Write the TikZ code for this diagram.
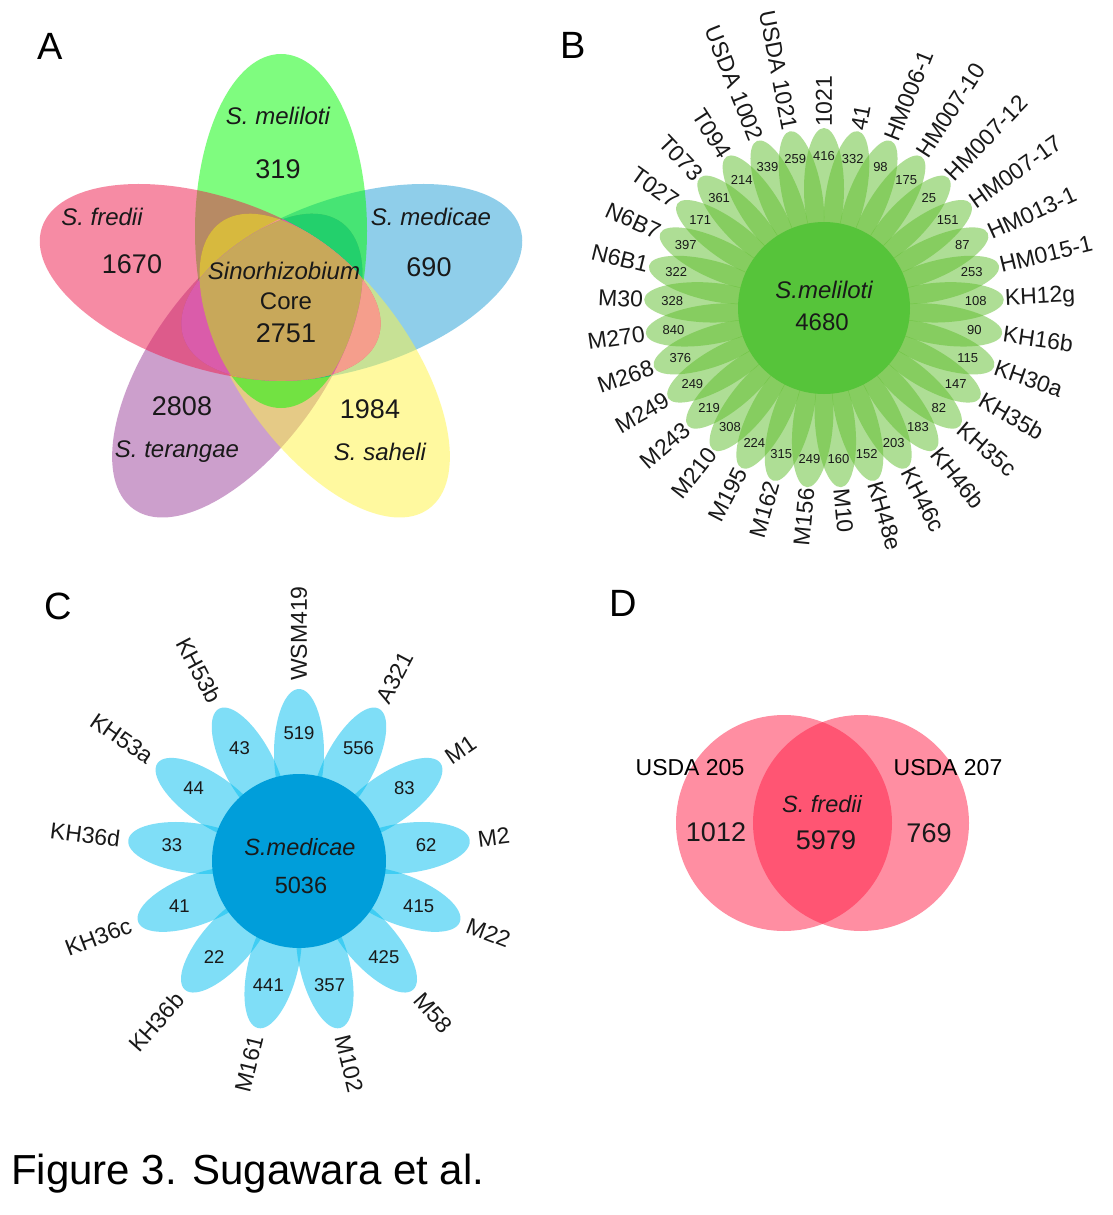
\documentclass[tikz,border=0pt]{standalone}
\usepackage{fontspec}
\setmainfont{Liberation Sans}
\newcommand\myfs[1]{\fontsize{#1}{#1}\selectfont}
\definecolor{tcol}{RGB}{25,25,25}
\definecolor{vgreen}{RGB}{0,250,0}
\definecolor{vpink}{RGB}{239,25,75}
\definecolor{vblue}{RGB}{33,159,215}
\definecolor{vpurple}{RGB}{155,65,155}
\definecolor{vyellow}{RGB}{255,245,65}
\definecolor{rcore}{RGB}{200,168,90}
\definecolor{rtipY}{RGB}{215,185,62}
\definecolor{rtipPu}{RGB}{35,208,108}
\definecolor{rtipPk}{RGB}{245,158,140}
\definecolor{rtipB}{RGB}{218,92,170}
\definecolor{bpetal}{RGB}{95,190,45}
\definecolor{bcore}{RGB}{86,196,58}
\definecolor{cpetal}{RGB}{0,190,240}
\definecolor{ccore}{RGB}{0,158,218}
\definecolor{dred}{RGB}{255,30,70}
\def\Blist{1021/416, 41/332, HM006-1/98, HM007-10/175, HM007-12/25, HM007-17/151, HM013-1/87, HM015-1/253, KH12g/108, KH16b/90, KH30a/115, KH35b/147, KH35c/82, KH46b/183, KH46c/203, KH48e/152, M10/160, M156/249, M162/315, M195/224, M210/308, M243/219, M249/249, M268/376, M270/840, M30/328, N6B1/322, N6B7/397, T027/171, T073/361, T094/214, USDA 1002/339, USDA 1021/259}
\def\Clist{WSM419/519, A321/556, M1/83, M2/62, M22/415, M58/425, M102/357, M161/441, KH36b/22, KH36c/41, KH36d/33, KH53a/44, KH53b/43}
\begin{document}
\begin{tikzpicture}[x=1pt,y=-1pt,
  txt/.style={text=tcol, inner sep=0pt},
  vname/.style={txt, font=\myfs{24}\itshape},
  vnum/.style={txt, font=\myfs{27}},
  plabel/.style={text=black, inner sep=0pt, font=\myfs{38}},
  blab/.style={txt, font=\myfs{23}},
  bnum/.style={txt, font=\myfs{13}},
  bcname/.style={txt, font=\myfs{24}\itshape},
  bcnum/.style={txt, font=\myfs{24}},
  clab/.style={txt, font=\myfs{23}},
  cnum/.style={txt, font=\myfs{18.5}},
  ccname/.style={txt, font=\myfs{23.5}\itshape},
  ccnum/.style={txt, font=\myfs{23.5}},
  dlab/.style={text=black, inner sep=0pt, font=\myfs{23}},
  dname/.style={txt, font=\myfs{23.5}\itshape},
  dnum/.style={txt, font=\myfs{27}},
  venn/.style={fill=#1, fill opacity=0.5},
  bpet/.style={fill=bpetal, fill opacity=0.5},
  cpet/.style={fill=cpetal, fill opacity=0.5},
  Tpink/.style={rotate around={72:(210.2,282.4)}},
  Tblue/.style={rotate around={-72:(351.8,282.4)}},
  Tpurple/.style={rotate around={144:(237.3,365.6)}},
  Tyellow/.style={rotate around={-144:(324.7,365.6)}},
  vell/.style={x radius=86, y radius=177},
]
\fill[white] (0,0) rectangle (1112,1215);
\useasboundingbox (0,0) rectangle (1112,1215);

% ---------------- Panel A ----------------
\fill[venn=vblue, Tblue] (351.8,282.4) ellipse [vell];
\fill[venn=vpurple, Tpurple] (237.3,365.6) ellipse [vell];
\fill[venn=vyellow, Tyellow] (324.7,365.6) ellipse [vell];
\fill[venn=vgreen] (281,231) ellipse [vell];
\fill[venn=vpink, Tpink] (210.2,282.4) ellipse [vell];
% tip regions
\begin{scope}
  \clip[Tpink] (210.2,282.4) ellipse [vell];
  \clip (281,231) ellipse [vell];
  \clip[Tyellow] (324.7,365.6) ellipse [vell];
  \fill[rtipY] (0,0) rectangle (540,540);
\end{scope}
\begin{scope}
  \clip[Tblue] (351.8,282.4) ellipse [vell];
  \clip (281,231) ellipse [vell];
  \clip[Tpurple] (237.3,365.6) ellipse [vell];
  \fill[rtipPu] (0,0) rectangle (540,540);
\end{scope}
\begin{scope}
  \clip[Tblue] (351.8,282.4) ellipse [vell];
  \clip[Tyellow] (324.7,365.6) ellipse [vell];
  \clip[Tpink] (210.2,282.4) ellipse [vell];
  \fill[rtipPk] (0,0) rectangle (540,540);
\end{scope}
\begin{scope}
  \clip[Tpink] (210.2,282.4) ellipse [vell];
  \clip[Tpurple] (237.3,365.6) ellipse [vell];
  \clip[Tblue] (351.8,282.4) ellipse [vell];
  \fill[rtipB] (0,0) rectangle (540,540);
\end{scope}
\begin{scope}
  \clip[Tpink] (210.2,282.4) ellipse [vell];
  \clip[Tblue] (351.8,282.4) ellipse [vell];
  \clip (281,231) ellipse [vell];
  \clip[Tpurple] (237.3,365.6) ellipse [vell];
  \clip[Tyellow] (324.7,365.6) ellipse [vell];
  \fill[rcore] (0,0) rectangle (540,540);
\end{scope}

\node[plabel] (lA) at (50,46) {A};
\node[vname] (amel) at (278,116) {S. meliloti};
\node[vnum] (amelN) at (278,169) {319};
\node[vname] (afre) at (102,217) {S. fredii};
\node[vnum] (afreN) at (132,264) {1670};
\node[vname] (amed) at (431,217) {S. medicae};
\node[vnum] (amedN) at (429,267) {690};
\node[vname] (acore) at (284,271) {Sinorhizobium};
\node[txt, font=\myfs{24}] (acore2) at (286,301) {Core};
\node[vnum] (acoreN) at (286,333) {2751};
\node[vnum] (aterN) at (182,406) {2808};
\node[vname, anchor=base] (ater) at (177,457) {S. terangae};
\node[vnum] (asahN) at (370,409) {1984};
\node[vname] (asah) at (380,452) {S. saheli};

% ---------------- Panel B ----------------
\node[plabel] (lB) at (573.5,45) {B};
\foreach \lab/\num [count=\i from 0] in \Blist {
  \pgfmathsetmacro\ang{90-\i*360/33}
  \fill[bpet, rotate around={\ang:(824,308)}] (943,308) ellipse [x radius=61, y radius=20];
}
\fill[bcore] (824,308) circle [radius=86];
\node[bcname] (bname) at (824,290) {S.meliloti};
\node[bcnum] (bcount) at (822,322) {4680};
\foreach \lab/\num [count=\i from 0] in \Blist {
  \pgfmathsetmacro\ang{90-\i*360/33}
  \pgfmathsetmacro\lx{824+181*cos(\ang)}
  \pgfmathsetmacro\ly{308-181*sin(\ang)}
  \pgfmathsetmacro\nx{824+152*cos(\ang)}
  \pgfmathsetmacro\ny{308-152*sin(\ang)}
  \pgfmathtruncatemacro\isleft{cos(\ang)+0.01<0 ? 1 : 0}
  \ifnum\isleft=1
    \node[blab, anchor=east, rotate=\ang+180] (bl\i) at (\lx,\ly) {\lab};
  \else
    \node[blab, anchor=west, rotate=\ang] (bl\i) at (\lx,\ly) {\lab};
  \fi
  \node[bnum] (bn\i) at (\nx,\ny) {\num};
}

% ---------------- Panel C ----------------
\node[plabel] (lC) at (58,606) {C};
\foreach \lab/\num [count=\i from 0] in \Clist {
  \pgfmathsetmacro\ang{90-\i*360/13}
  \fill[cpet, rotate around={\ang:(299,861)}] (407,861) ellipse [x radius=64, y radius=25];
}
\fill[ccore] (299,861) circle [radius=87];
\node[ccname] (cname) at (300,847) {S.medicae};
\node[ccnum] (ccount) at (301,885) {5036};
\foreach \lab/\num [count=\i from 0] in \Clist {
  \pgfmathsetmacro\ang{90-\i*360/13}
  \pgfmathsetmacro\lx{299+180*cos(\ang)}
  \pgfmathsetmacro\ly{861-180*sin(\ang)}
  \pgfmathsetmacro\nx{299+128*cos(\ang)}
  \pgfmathsetmacro\ny{861-128*sin(\ang)}
  \pgfmathtruncatemacro\isleft{cos(\ang)+0.01<0 ? 1 : 0}
  \ifnum\isleft=1
    \node[clab, anchor=east, rotate=\ang+180] (cl\i) at (\lx,\ly) {\lab};
  \else
    \node[clab, anchor=west, rotate=\ang] (cl\i) at (\lx,\ly) {\lab};
  \fi
  \node[cnum] (cn\i) at (\nx,\ny) {\num};
}

% ---------------- Panel D ----------------
\node[plabel] (lD) at (623,603) {D};
\fill[venn=dred] (784,823) circle [radius=108];
\fill[venn=dred] (861,823) circle [radius=108];
\node[dlab] (d205) at (690,768) {USDA 205};
\node[dlab] (d207) at (948,768) {USDA 207};
\node[dname] (dname) at (822,804) {S. fredii};
\node[dnum] (d1012) at (716,832) {1012};
\node[dnum] (d5979) at (826,840) {5979};
\node[dnum] (d769) at (929,833) {769};

% ---------------- Caption ----------------
\node[text=black, inner sep=0pt, font=\myfs{42}, anchor=base west] (cap) at (11,1184) {Figure 3. Sugawara et al.};
\end{tikzpicture}
\end{document}
